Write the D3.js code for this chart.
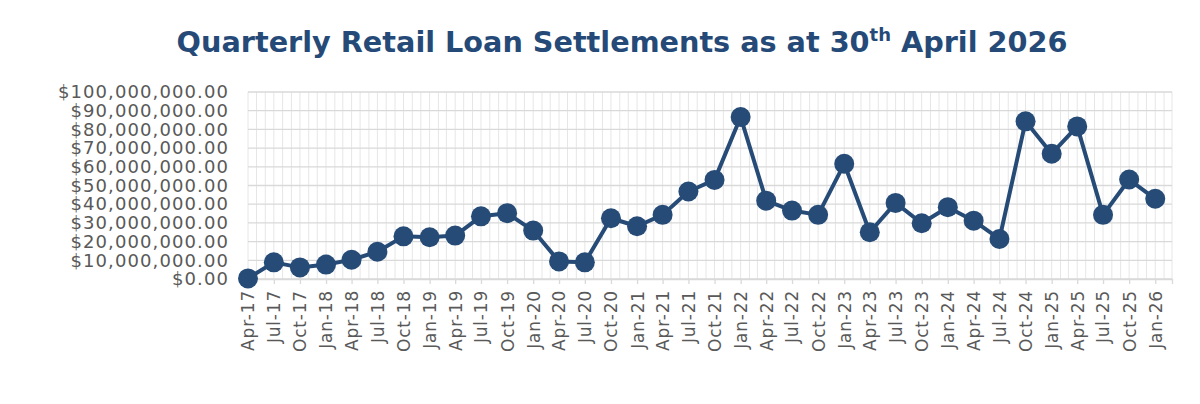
<!DOCTYPE html>
<html>
<head>
<meta charset="utf-8">
<script src="https://cdn.jsdelivr.net/npm/d3@7"></script>
<style>
  body { margin: 0; background: #fff; }
  svg { display: block; }
</style>
</head>
<body>
<div class="chart"></div>
<script>
// quarter labels and settlement values
var quarters = ["Apr-17", "Jul-17", "Oct-17", "Jan-18", "Apr-18", "Jul-18", "Oct-18", "Jan-19",
  "Apr-19", "Jul-19", "Oct-19", "Jan-20", "Apr-20", "Jul-20", "Oct-20", "Jan-21", "Apr-21",
  "Jul-21", "Oct-21", "Jan-22", "Apr-22", "Jul-22", "Oct-22", "Jan-23", "Apr-23", "Jul-23",
  "Oct-23", "Jan-24", "Apr-24", "Jul-24", "Oct-24", "Jan-25", "Apr-25", "Jul-25", "Oct-25", "Jan-26"];

var settlements = [0.3, 8.9, 6.2, 7.7, 10.3, 14.6, 22.8, 22.3,
  23.2, 33.5, 35.2, 25.9, 9.4, 8.9, 32.5, 28.2, 34.3,
  46.8, 53.0, 86.6, 41.9, 36.6, 34.3, 61.6, 25.0, 40.7,
  29.8, 38.4, 31.2, 21.4, 84.3, 67.0, 81.6, 34.3, 53.2, 42.9].map(function(d) { return d * 1e6; });

var yTicks = d3.range(0, 100000001, 10000000);

var svgWidth = 1200;
var svgHeight = 404;
var margin = { top: 92, right: 28, bottom: 125, left: 248 };
var width = svgWidth - margin.left - margin.right;
var height = svgHeight - margin.top - margin.bottom;

var parseQ = d3.timeParse("%b-%y");
var dates = quarters.map(parseQ);

var svg = d3.select(".chart")
  .append("svg")
  .attr("width", svgWidth)
  .attr("height", svgHeight);

// title
var title = svg.append("text")
  .attr("x", 622)
  .attr("y", 52)
  .attr("text-anchor", "middle")
  .attr("fill", "#264a78")
  .style("font-family", "'DejaVu Sans', sans-serif")
  .style("font-weight", "bold")
  .style("font-size", "28.7px");
title.append("tspan").text("Quarterly Retail Loan Settlements as at 30");
title.append("tspan").attr("dy", -11).style("font-size", "18px").text("th");
title.append("tspan").attr("dy", 11).text(" April 2026");

var x = d3.scaleTime()
  .domain([dates[0], d3.timeMonth.offset(dates[dates.length - 1], 2)])
  .range([0, width]);

var y = d3.scaleLinear()
  .domain([0, 100000000])
  .range([height, 0]);

var chart = svg.append("g")
  .attr("transform", "translate(" + margin.left + "," + margin.top + ")");

// monthly vertical grid
chart.append("g")
  .selectAll("line")
  .data(d3.timeMonth.range(dates[0], d3.timeMonth.offset(x.domain()[1], 1)))
  .enter().append("line")
    .attr("x1", function(d) { return x(d); })
    .attr("x2", function(d) { return x(d); })
    .attr("y1", 0)
    .attr("y2", height)
    .attr("stroke", "#e6e6e6")
    .attr("stroke-width", 1);

// horizontal grid
chart.append("g")
  .selectAll("line")
  .data(yTicks)
  .enter().append("line")
    .attr("x1", 0)
    .attr("x2", width)
    .attr("y1", function(d) { return y(d); })
    .attr("y2", function(d) { return y(d); })
    .attr("stroke", "#d9d9d9")
    .attr("stroke-width", 1.3);

// y axis labels
var yAxis = d3.axisLeft(y)
  .tickValues(yTicks)
  .tickFormat(d3.format("$,.2f"))
  .tickSize(0)
  .tickPadding(19);

var yG = chart.append("g").call(yAxis);
yG.select(".domain").remove();
yG.selectAll("text")
  .attr("fill", "#595959")
  .style("font-family", "'DejaVu Sans', sans-serif")
  .style("font-size", "18px")
  .style("letter-spacing", "1.1px");

// x axis
var xAxis = d3.axisBottom(x)
  .tickValues(dates)
  .tickFormat(function(d, i) { return quarters[i]; })
  .tickSize(5)
  .tickPadding(8);

var xG = chart.append("g")
  .attr("transform", "translate(0," + height + ")")
  .call(xAxis);
xG.select(".domain").attr("stroke", "#d9d9d9").attr("stroke-width", 1.3);
xG.selectAll(".tick line").attr("stroke", "#d9d9d9").attr("stroke-width", 1.3);
xG.selectAll("text")
  .attr("fill", "#595959")
  .style("font-family", "'DejaVu Sans', sans-serif")
  .style("font-size", "17px")
  .style("letter-spacing", "0.8px")
  .attr("text-anchor", "end")
  .attr("transform", "rotate(-90)")
  .attr("x", -11)
  .attr("y", 0)
  .attr("dy", "0.35em");

// line
var line = d3.line()
  .x(function(d, i) { return x(dates[i]); })
  .y(function(d) { return y(d); });

chart.append("path")
  .attr("d", line(settlements))
  .attr("fill", "none")
  .attr("stroke", "#264b77")
  .attr("stroke-width", 4)
  .attr("stroke-linejoin", "round");

chart.selectAll("circle")
  .data(settlements)
  .enter().append("circle")
    .attr("cx", function(d, i) { return x(dates[i]); })
    .attr("cy", function(d) { return y(d); })
    .attr("r", 10)
    .attr("fill", "#264b77");
</script>
</body>
</html>
